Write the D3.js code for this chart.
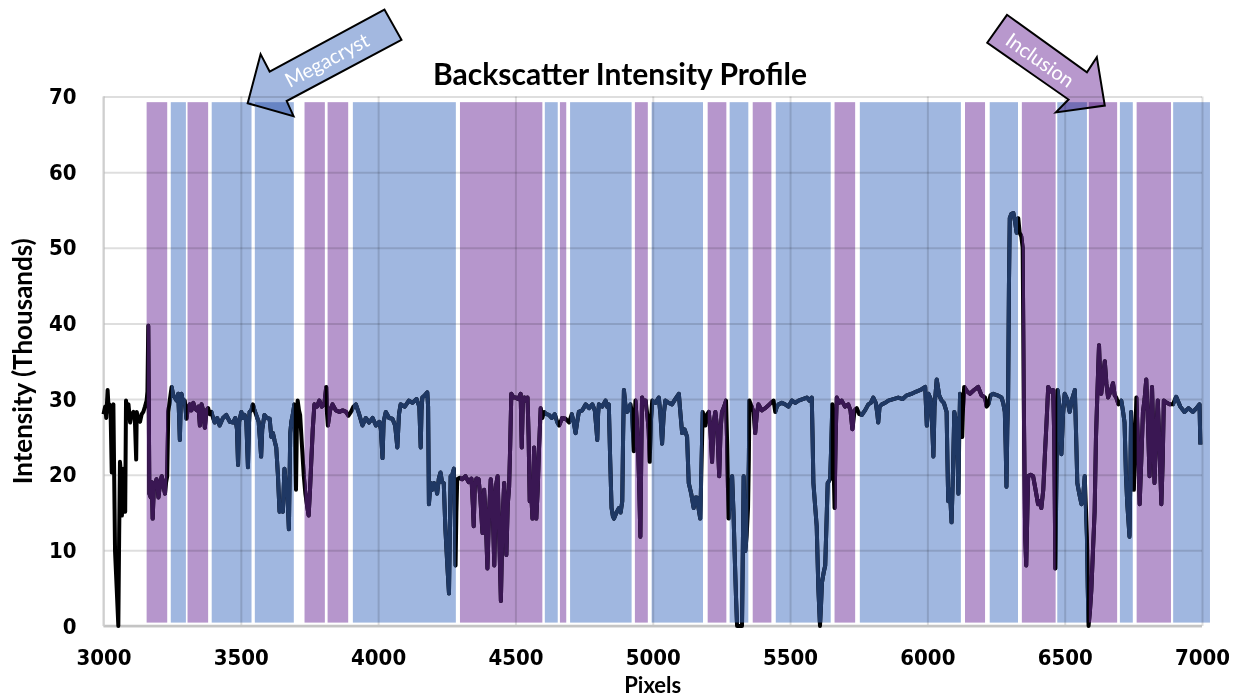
<html>

<head>
  <script src="https://d3js.org/d3.v7.min.js"></script>
  <style>
    body {
      margin: 0;
      background: #fff;
    }

    .axis .tick text {
      font-family: "DejaVu Sans Condensed", "DejaVu Sans", sans-serif;
      font-stretch: condensed;
      font-weight: bold;
      font-size: 22px;
      fill: #000;
    }

    .axis .domain {
      stroke: none;
    }

    .gridlines line {
      stroke: rgba(0, 0, 0, 0.13);
      stroke-width: 2;
    }

    .gridlines .domain {
      stroke: none;
    }

    .label {
      font-family: Lato, sans-serif;
      font-weight: bold;
      fill: #000;
    }
  </style>
</head>

<body>
  <svg id="chart" width="1241" height="698"></svg>
  <script>
    const xTicks = [3000, 3500, 4000, 4500, 5000, 5500, 6000, 6500, 7000]
    const yTicks = [0, 10, 20, 30, 40, 50, 60, 70]

    // shaded zones, in pixel units along the profile
    const bandStart = [3157, 3245, 3306, 3394, 3551, 3732, 3816, 3908, 4298, 4607, 4662, 4699, 4935, 4996,
      5200, 5280, 5364, 5448, 5662, 5754, 6137, 6227, 6344, 6473, 6588, 6701, 6762, 6895]
    const bandEnd = [3232, 3300, 3381, 3539, 3693, 3806, 3891, 4283, 4598, 4654, 4685, 4923, 4982, 5183,
      5268, 5348, 5432, 5648, 5737, 6122, 6210, 6330, 6467, 6581, 6691, 6748, 6887, 7029]
    const bandKind = ["inc", "meg", "inc", "meg", "meg", "inc", "inc", "meg", "inc", "meg", "inc", "meg", "inc", "meg",
      "inc", "meg", "inc", "meg", "inc", "meg", "inc", "meg", "inc", "meg", "inc", "meg", "inc", "meg"]
    const bandTop = 69.25
    const bandBottom = 0.45

    // intensity profile (thousands)
    const pixelX = [
      3000, 3006, 3010, 3015, 3019, 3022, 3026, 3030, 3033, 3036, 3042, 3048, 3054, 3057, 3060, 3064, 3067, 3070, 3073, 3079,
      3082, 3086, 3091, 3097, 3103, 3109, 3114, 3119, 3121, 3127, 3133, 3139, 3145, 3151, 3157, 3160, 3163, 3167, 3172, 3176,
      3179, 3184, 3188, 3193, 3197, 3200, 3206, 3212, 3218, 3224, 3228, 3232, 3236, 3242, 3248, 3254, 3260, 3266, 3272, 3275,
      3278, 3281, 3284, 3290, 3296, 3302, 3308, 3314, 3320, 3327, 3333, 3340, 3346, 3351, 3357, 3363, 3369, 3375, 3381, 3387,
      3393, 3399, 3405, 3414, 3423, 3435, 3447, 3460, 3472, 3480, 3486, 3490, 3494, 3502, 3508, 3514, 3520, 3526, 3530, 3532,
      3538, 3544, 3550, 3556, 3565, 3571, 3574, 3578, 3586, 3595, 3605, 3611, 3617, 3623, 3629, 3635, 3641, 3647, 3653, 3659,
      3665, 3670, 3675, 3680, 3684, 3689, 3695, 3698, 3701, 3704, 3707, 3712, 3716, 3723, 3729, 3735, 3741, 3747, 3752, 3756,
      3762, 3768, 3777, 3786, 3795, 3804, 3811, 3814, 3817, 3825, 3834, 3846, 3859, 3871, 3883, 3892, 3901, 3910, 3919, 3931,
      3943, 3955, 3967, 3980, 3992, 4004, 4010, 4016, 4020, 4028, 4040, 4052, 4062, 4070, 4076, 4082, 4097, 4112, 4125, 4140,
      4150, 4155, 4158, 4161, 4170, 4179, 4182, 4185, 4191, 4197, 4203, 4209, 4215, 4221, 4227, 4233, 4239, 4245, 4252, 4258,
      4264, 4270, 4276, 4279, 4282, 4285, 4288, 4297, 4306, 4318, 4330, 4340, 4345, 4348, 4352, 4358, 4366, 4372, 4380, 4386,
      4392, 4398, 4404, 4410, 4416, 4423, 4429, 4435, 4441, 4447, 4453, 4459, 4463, 4467, 4472, 4477, 4481, 4485, 4493, 4501,
      4510, 4519, 4523, 4527, 4532, 4538, 4544, 4548, 4552, 4557, 4562, 4568, 4572, 4576, 4581, 4586, 4592, 4598, 4604, 4613,
      4622, 4632, 4643, 4653, 4659, 4670, 4683, 4695, 4705, 4712, 4719, 4725, 4731, 4743, 4756, 4768, 4780, 4789, 4795, 4798,
      4801, 4804, 4816, 4828, 4834, 4840, 4845, 4850, 4855, 4859, 4868, 4877, 4883, 4889, 4892, 4895, 4901, 4907, 4913, 4919,
      4925, 4931, 4934, 4937, 4942, 4947, 4951, 4955, 4958, 4961, 4967, 4974, 4980, 4985, 4989, 4993, 4998, 5010, 5022, 5028,
      5034, 5040, 5046, 5058, 5070, 5082, 5095, 5101, 5107, 5116, 5125, 5131, 5140, 5149, 5155, 5161, 5167, 5173, 5178, 5182,
      5187, 5192, 5198, 5204, 5210, 5216, 5222, 5228, 5235, 5242, 5247, 5252, 5260, 5267, 5271, 5276, 5283, 5289, 5294, 5298,
      5303, 5307, 5316, 5325, 5328, 5331, 5334, 5337, 5342, 5347, 5350, 5352, 5360, 5367, 5373, 5379, 5385, 5397, 5410, 5425,
      5440, 5446, 5452, 5458, 5470, 5482, 5494, 5507, 5519, 5531, 5546, 5561, 5570, 5579, 5582, 5585, 5591, 5597, 5603, 5609,
      5613, 5616, 5622, 5628, 5633, 5637, 5646, 5650, 5654, 5658, 5662, 5666, 5670, 5679, 5688, 5700, 5712, 5720, 5727, 5735,
      5743, 5752, 5761, 5773, 5785, 5794, 5803, 5812, 5818, 5821, 5826, 5834, 5846, 5858, 5876, 5894, 5910, 5925, 5943, 5960,
      5975, 5992, 5998, 6004, 6012, 6018, 6022, 6026, 6034, 6043, 6052, 6060, 6070, 6073, 6076, 6082, 6088, 6093, 6098, 6105,
      6110, 6113, 6116, 6119, 6123, 6127, 6130, 6134, 6145, 6155, 6170, 6185, 6197, 6210, 6216, 6222, 6230, 6240, 6255, 6270,
      6276, 6282, 6285, 6288, 6291, 6294, 6297, 6300, 6306, 6313, 6319, 6325, 6331, 6336, 6342, 6347, 6351, 6356, 6360, 6364,
      6367, 6376, 6385, 6394, 6403, 6409, 6415, 6422, 6428, 6434, 6440, 6449, 6458, 6462, 6466, 6470, 6474, 6481, 6488, 6494,
      6500, 6509, 6518, 6527, 6537, 6541, 6546, 6553, 6561, 6567, 6573, 6577, 6581, 6584, 6587, 6592, 6597, 6603, 6609, 6614,
      6619, 6622, 6625, 6629, 6633, 6640, 6646, 6652, 6658, 6667, 6676, 6682, 6688, 6696, 6706, 6712, 6718, 6723, 6728, 6732,
      6736, 6739, 6742, 6747, 6752, 6757, 6761, 6767, 6773, 6779, 6785, 6791, 6797, 6803, 6809, 6814, 6818, 6823, 6827, 6833,
      6839, 6845, 6852, 6857, 6861, 6872, 6882, 6894, 6906, 6921, 6936, 6951, 6967, 6980, 6991, 6994]
    const intensity = [
      28.0, 29.0, 27.5, 31.2, 28.5, 29.3, 28.0, 20.3, 28.5, 29.3, 9.9, 5.0, 0.0, 12.0, 21.7, 20.0, 14.6, 18.0, 20.8, 15.1,
      29.8, 28.5, 29.3, 26.9, 28.0, 28.3, 27.5, 22.0, 28.3, 27.2, 27.0, 28.0, 28.3, 29.0, 29.8, 31.0, 39.7, 17.5, 17.0, 19.0,
      14.2, 18.9, 18.5, 19.4, 18.5, 17.0, 18.8, 19.8, 18.5, 17.5, 19.0, 19.8, 28.3, 30.0, 31.6, 30.5, 30.2, 29.8, 30.7, 28.0,
      24.6, 29.0, 30.7, 29.5, 29.8, 27.4, 29.0, 29.3, 28.5, 29.5, 28.8, 28.5, 29.0, 26.5, 29.3, 28.5, 26.2, 28.5, 28.8, 28.0,
      28.3, 27.5, 26.9, 27.5, 26.5, 27.5, 27.9, 27.0, 26.9, 27.5, 26.0, 21.3, 27.0, 28.3, 27.5, 27.9, 27.0, 21.0, 27.0, 28.3,
      28.5, 29.3, 28.5, 27.9, 27.0, 24.0, 22.4, 26.0, 27.9, 27.5, 27.4, 25.0, 25.5, 24.5, 23.6, 20.0, 15.1, 16.0, 15.1, 20.8,
      18.4, 17.0, 12.8, 25.5, 27.0, 27.9, 29.3, 25.0, 18.0, 26.0, 29.8, 28.5, 27.9, 23.6, 20.0, 17.5, 16.0, 14.6, 18.0, 21.3,
      26.0, 29.3, 29.0, 29.8, 29.0, 29.3, 31.6, 28.0, 26.5, 28.5, 29.3, 28.5, 28.3, 28.5, 28.3, 27.8, 28.3, 29.0, 29.3, 28.0,
      26.5, 27.5, 26.9, 27.5, 26.5, 27.0, 26.0, 22.2, 27.0, 28.3, 27.5, 27.4, 26.5, 23.6, 28.0, 29.3, 29.0, 29.8, 29.5, 30.0,
      29.0, 23.6, 28.5, 30.2, 30.5, 30.9, 29.0, 16.1, 18.9, 18.0, 18.9, 18.5, 17.5, 19.5, 20.3, 19.0, 18.9, 12.8, 8.0, 4.3,
      19.8, 20.0, 20.8, 15.0, 8.0, 15.0, 19.4, 19.6, 19.4, 19.8, 19.0, 19.5, 16.0, 13.2, 18.5, 19.5, 19.4, 17.0, 12.3, 18.0,
      14.0, 7.6, 15.0, 19.4, 17.0, 8.0, 18.5, 19.8, 12.0, 3.3, 14.0, 18.9, 15.0, 9.4, 16.0, 18.4, 24.0, 30.7, 30.2, 30.2,
      30.0, 30.7, 23.6, 29.5, 30.2, 29.8, 30.2, 25.0, 16.5, 18.0, 14.2, 23.6, 20.0, 14.2, 18.0, 23.6, 28.8, 27.5, 28.3, 28.0,
      27.9, 27.5, 28.0, 26.9, 26.5, 27.5, 27.4, 26.9, 28.0, 27.0, 25.5, 27.0, 28.3, 28.5, 29.3, 28.8, 29.3, 28.5, 26.0, 24.6,
      28.0, 29.3, 29.0, 29.8, 29.0, 29.3, 22.0, 15.6, 14.5, 14.2, 15.0, 15.6, 15.0, 16.5, 25.0, 31.2, 29.0, 28.3, 29.0, 29.3,
      28.0, 23.1, 27.0, 29.8, 27.0, 23.1, 18.0, 11.8, 22.0, 30.2, 29.5, 29.8, 28.0, 26.0, 21.7, 27.0, 29.8, 29.5, 30.2, 28.0,
      24.1, 28.0, 29.8, 29.5, 29.3, 30.0, 30.7, 28.0, 25.5, 26.0, 25.0, 18.9, 17.5, 15.6, 17.0, 17.0, 15.5, 14.2, 22.0, 28.3,
      27.5, 26.5, 28.0, 28.3, 26.0, 21.7, 27.0, 28.3, 26.0, 19.8, 26.0, 28.3, 29.0, 29.8, 24.0, 14.2, 18.0, 19.8, 15.0, 9.9,
      4.0, 0.0, 0.0, 0.0, 10.0, 19.8, 15.0, 9.9, 12.0, 15.6, 22.0, 29.8, 29.0, 28.3, 25.5, 28.0, 29.3, 28.5, 28.8, 29.3,
      29.8, 28.3, 29.0, 29.3, 29.5, 29.3, 29.0, 29.8, 29.5, 29.8, 30.0, 30.2, 29.8, 30.2, 25.0, 18.9, 16.0, 13.2, 5.0, 0.0,
      3.0, 5.7, 7.0, 8.0, 14.0, 18.9, 19.4, 24.0, 29.3, 22.0, 15.6, 25.0, 30.2, 29.5, 29.8, 29.0, 29.3, 28.5, 26.0, 28.5,
      28.8, 28.0, 27.9, 28.5, 29.3, 29.5, 30.2, 29.5, 28.0, 26.9, 29.0, 29.3, 29.5, 29.8, 30.0, 30.2, 30.0, 30.5, 30.7, 31.0,
      31.2, 31.6, 26.5, 30.7, 30.0, 26.0, 22.4, 29.0, 32.6, 30.5, 29.8, 29.5, 28.3, 22.0, 16.5, 18.0, 13.7, 20.0, 28.3, 27.0,
      22.0, 17.5, 25.0, 30.7, 29.0, 25.0, 29.0, 31.6, 31.0, 30.7, 31.2, 31.6, 30.5, 30.2, 29.0, 29.3, 30.5, 30.7, 30.5, 30.2,
      29.5, 28.3, 24.0, 18.4, 26.0, 30.2, 45.0, 53.9, 54.5, 54.6, 53.5, 52.0, 53.9, 52.0, 51.5, 50.0, 30.0, 12.0, 8.0, 15.0,
      19.8, 20.0, 19.8, 18.0, 16.1, 16.5, 15.6, 18.0, 22.7, 27.0, 31.6, 31.0, 31.2, 25.0, 7.6, 20.0, 31.2, 29.0, 22.7, 28.0,
      30.7, 30.0, 28.3, 30.0, 31.2, 26.0, 18.9, 17.5, 16.1, 17.0, 19.8, 16.0, 11.8, 5.0, 0.0, 2.0, 4.7, 10.0, 15.1, 25.0,
      30.7, 34.0, 37.1, 33.0, 30.7, 33.0, 35.0, 32.0, 30.2, 31.0, 32.1, 30.5, 30.2, 29.3, 29.8, 28.5, 26.9, 20.0, 16.1, 14.0,
      11.8, 20.0, 28.3, 24.0, 18.0, 25.0, 30.2, 24.0, 16.1, 22.0, 28.3, 30.0, 32.6, 27.0, 19.8, 26.0, 31.6, 25.0, 18.9, 25.0,
      29.8, 24.0, 16.1, 22.0, 29.8, 29.5, 29.3, 29.3, 30.3, 29.0, 28.3, 28.8, 28.3, 28.8, 29.3, 24.0]

    // call-out arrows, outlined in chart units (pixels, thousands)
    const megacrystArrow = [[3525, 69.1], [3572, 75.6], [3605, 73.3], [4023, 81.5], [4085, 77.5], [3667, 69.4], [3692, 67.4]]
    const inclusionArrow = [[6290, 80.8], [6218, 77.1], [6514, 69.6], [6468, 67.9], [6646, 68.8], [6617, 75.2], [6581, 73.2]]
    const arrowLabels = [
      { text: "Megacryst", x: 3812, y: 74.9, angle: -28, fill: "#a3b8e0" },
      { text: "Inclusion", x: 6412, y: 74.9, angle: 35, fill: "#b898cd" }
    ]

    const colors = { meg: "#a0b7e0", inc: "#b696cc" }
    const lineColors = { meg: "#1f3864", inc: "#3a1753" }

    const svg = d3.select('#chart')
    const margin = { top: 96.5, left: 103.5, right: 39, bottom: 72 }
    const width = +svg.attr("width")
    const height = +svg.attr("height")
    const chartWidth = width - margin.left - margin.right
    const chartHeight = height - margin.top - margin.bottom

    const xScale = d3.scaleLinear().domain([3000, 7000]).range([0, chartWidth])
    const yScale = d3.scaleLinear().domain([0, 70]).range([chartHeight, 0])

    const chart = svg.append("g")
      .attr("transform", `translate(${margin.left},${margin.top})`)

    const bands = bandStart.map((s, i) => ({ start: s, end: bandEnd[i], kind: bandKind[i] }))

    chart.append("g").selectAll("rect").data(bands)
      .join("rect")
      .attr("x", d => xScale(d.start))
      .attr("width", d => xScale(d.end) - xScale(d.start))
      .attr("y", yScale(bandTop))
      .attr("height", yScale(bandBottom) - yScale(bandTop))
      .style("fill", d => colors[d.kind])

    // gridlines
    chart.append("g")
      .attr("class", "gridlines")
      .call(d3.axisLeft(yScale).tickValues(yTicks).tickSize(-chartWidth).tickFormat(""))
    chart.append("g")
      .attr("class", "gridlines")
      .attr("transform", `translate(0,${chartHeight})`)
      .call(d3.axisBottom(xScale).tickValues(xTicks).tickSize(-chartHeight).tickFormat(""))

    chart.append("line")
      .attr("x1", 0).attr("x2", chartWidth)
      .attr("y1", chartHeight).attr("y2", chartHeight)
      .style("stroke", "#c4c4c4").style("stroke-width", 2.5)
    chart.append("line")
      .attr("x1", 0).attr("x2", 0)
      .attr("y1", 0).attr("y2", chartHeight)
      .style("stroke", "#cfcfcf").style("stroke-width", 2)

    // axes labels
    chart.append("g")
      .attr("class", "axis")
      .call(d3.axisLeft(yScale).tickValues(yTicks).tickSize(0).tickPadding(27).tickFormat(d3.format("d")))
    chart.append("g")
      .attr("class", "axis")
      .attr("transform", `translate(0,${chartHeight})`)
      .call(d3.axisBottom(xScale).tickValues(xTicks).tickSize(0).tickPadding(23).tickFormat(d3.format("d")))

    // profile line, recoloured where it crosses each kind of zone
    const profile = pixelX.map((x, i) => ({ x: x, v: intensity[i] }))
    const line = d3.line()
      .x(d => xScale(d.x))
      .y(d => yScale(d.v))

    const defs = svg.append("defs")
    Object.keys(colors).forEach(k => {
      defs.append("clipPath").attr("id", "clip-" + k)
        .selectAll("rect").data(bands.filter(b => b.kind === k))
        .join("rect")
        .attr("x", d => xScale(d.start))
        .attr("width", d => xScale(d.end) - xScale(d.start))
        .attr("y", yScale(bandTop))
        .attr("height", yScale(bandBottom) - yScale(bandTop))
    })

    const drawLine = (color, clip) => {
      const p = chart.append("path")
        .attr("d", line(profile))
        .style("fill", "none")
        .style("stroke", color)
        .style("stroke-width", 4)
        .style("stroke-linejoin", "round")
      if (clip) p.attr("clip-path", `url(#clip-${clip})`)
    }
    drawLine("#000", null)
    drawLine(lineColors.meg, "meg")
    drawLine(lineColors.inc, "inc")

    // arrows
    const arrowPath = pts => "M" + pts.map(p => `${xScale(p[0])},${yScale(p[1])}`).join("L") + "Z"
    chart.append("path")
      .attr("d", arrowPath(megacrystArrow))
      .style("fill", arrowLabels[0].fill)
      .style("mix-blend-mode", "multiply")
      .style("stroke", "#000").style("stroke-width", 2).style("stroke-linejoin", "miter")
    chart.append("path")
      .attr("d", arrowPath(inclusionArrow))
      .style("fill", arrowLabels[1].fill)
      .style("mix-blend-mode", "multiply")
      .style("stroke", "#000").style("stroke-width", 2).style("stroke-linejoin", "miter")

    chart.selectAll("text.callout").data(arrowLabels)
      .join("text")
      .attr("class", "callout")
      .attr("transform", d => `translate(${xScale(d.x)},${yScale(d.y)}) rotate(${d.angle})`)
      .attr("text-anchor", "middle")
      .attr("dominant-baseline", "central")
      .style("font-family", "Lato, sans-serif")
      .style("font-size", "20px")
      .style("fill", "#fff")
      .text(d => d.text)

    // titles
    svg.append("text")
      .attr("class", "label")
      .attr("x", 620).attr("y", 85)
      .attr("text-anchor", "middle")
      .style("font-size", "30px")
      .text("Backscatter Intensity Profile")
    svg.append("text")
      .attr("class", "label")
      .attr("transform", `translate(32,${margin.top + chartHeight / 2}) rotate(-90)`)
      .attr("text-anchor", "middle")
      .style("font-size", "26px")
      .text("Intensity (Thousands)")
    svg.append("text")
      .attr("class", "label")
      .attr("x", margin.left + chartWidth / 2).attr("y", 693)
      .attr("text-anchor", "middle")
      .style("font-size", "22px")
      .text("Pixels")
  </script>
</body>

</html>
